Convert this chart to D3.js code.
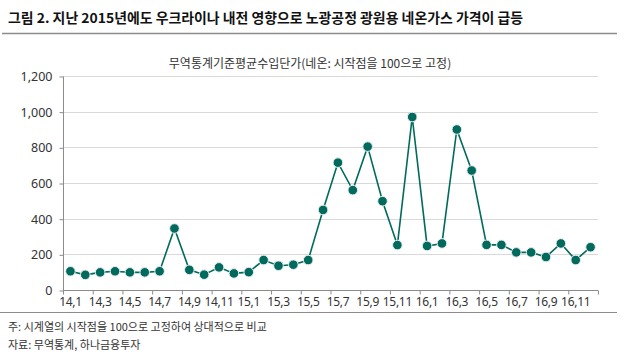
<!DOCTYPE html>
<html>
<head>
<meta charset="utf-8">
<script src="https://cdn.jsdelivr.net/npm/d3@7"></script>
<style>
  body { margin: 0; background: #fff; }
  svg { display: block; font-family: "Noto Sans CJK KR", "Noto Sans", sans-serif; }
  .axis text { fill: #333; font-family: "Noto Sans", "Noto Sans CJK KR", sans-serif; }
</style>
</head>
<body>
<div id="graph"></div>
<script>
const months = [
  "14,1","14,2","14,3","14,4","14,5","14,6","14,7","14,8","14,9","14,10","14,11","14,12",
  "15,1","15,2","15,3","15,4","15,5","15,6","15,7","15,8","15,9","15,10","15,11","15,12",
  "16,1","16,2","16,3","16,4","16,5","16,6","16,7","16,8","16,9","16,10","16,11","16,12"
];
const neonPrice = [
  105, 85, 99, 105, 99, 99, 105, 345, 113, 86, 127, 93,
  100, 168, 136, 142, 168, 449, 714, 560, 804, 498, 252, 970,
  247, 261, 900, 670, 253, 253, 211, 211, 185, 261, 168, 240
];
const yTicks = [0, 200, 400, 600, 800, 1000, 1200];

const title = "그림 2. 지난 2015년에도 우크라이나 내전 영향으로 노광공정 광원용 네온가스 가격이 급등";
const legendText = "무역통계기준평균수입단가(네온: 시작점을 100으로 고정)";
const notes = ["주: 시계열의 시작점을 100으로 고정하여 상대적으로 비교", "자료: 무역통계, 하나금융투자"];

const W = 630, H = 364;
const plot = { left: 63, right: 598, top: 76, bottom: 290 };
const lineColor = "#006b5c";

const svg = d3.select("#graph").append("svg")
  .attr("width", W)
  .attr("height", H);

// title + rule
svg.append("text")
  .attr("x", 8).attr("y", 23)
  .attr("font-size", 13.5).attr("font-weight", "bold").attr("fill", "#111")
  .attr("textLength", 515).attr("lengthAdjust", "spacingAndGlyphs")
  .text(title);
svg.append("line")
  .attr("x1", 2).attr("x2", 617).attr("y1", 33.5).attr("y2", 33.5)
  .attr("stroke", "#8c8c8c").attr("stroke-width", 1.5);

const x = d3.scaleBand().domain(months).range([plot.left, plot.right]).padding(0);
const xIdx = d3.scaleLinear().domain([0, months.length]).range([plot.left, plot.right]);
const y = d3.scaleLinear().domain([0, 1200]).range([plot.bottom, plot.top]);

// gridlines
svg.append("g")
  .selectAll("line")
  .data(yTicks.filter(d => d > 0))
  .enter().append("line")
  .attr("x1", plot.left).attr("x2", plot.right)
  .attr("y1", d => Math.round(y(d)) + 0.5).attr("y2", d => Math.round(y(d)) + 0.5)
  .attr("stroke", "#d9d9d9").attr("stroke-width", 1);

// y axis
const yAxis = svg.append("g")
  .attr("class", "axis")
  .attr("transform", "translate(" + (plot.left + 0.5) + ",0.5)")
  .call(d3.axisLeft(y).tickValues(yTicks).tickSize(4).tickPadding(7).tickFormat(d3.format(",")));
yAxis.selectAll("text").attr("font-size", 12.5);
yAxis.selectAll("line, path").attr("stroke", "#8c8c8c");
yAxis.select(".domain").attr("d", "M0," + plot.top + "V" + plot.bottom);

// x axis tick marks at category boundaries
const xTicks = svg.append("g")
  .attr("class", "axis")
  .attr("transform", "translate(0," + (plot.bottom + 0.5) + ")")
  .call(d3.axisBottom(xIdx).tickValues(d3.range(0, months.length + 1, 2)).tickSize(4).tickFormat(""));
xTicks.selectAll("line, path").attr("stroke", "#8c8c8c");
xTicks.select(".domain").attr("d", "M" + plot.left + ",0H" + plot.right);

// x labels every other month
const xLabels = svg.append("g")
  .attr("class", "axis")
  .attr("transform", "translate(0," + plot.bottom + ")")
  .call(d3.axisBottom(x).tickValues(months.filter((d, i) => i % 2 === 0)).tickSize(0).tickPadding(7));
xLabels.select(".domain").remove();
xLabels.selectAll("text").attr("font-size", 12).attr("letter-spacing", -0.3);

// legend
svg.append("text")
  .attr("x", 310).attr("y", 68)
  .attr("text-anchor", "middle")
  .attr("font-size", 12).attr("fill", "#333")
  .text(legendText);

// series
const line = d3.line()
  .x((d, i) => x(months[i]) + x.bandwidth() / 2)
  .y(d => y(d));

svg.append("path")
  .datum(neonPrice)
  .attr("fill", "none")
  .attr("stroke", lineColor)
  .attr("stroke-width", 1.6)
  .attr("d", line);

svg.selectAll(".dot")
  .data(neonPrice)
  .enter().append("circle")
  .attr("class", "dot")
  .attr("cx", (d, i) => x(months[i]) + x.bandwidth() / 2)
  .attr("cy", d => y(d))
  .attr("r", 4.8)
  .attr("fill", lineColor)
  .attr("stroke", "#ececf6")
  .attr("stroke-width", 1);

// footer
svg.append("line")
  .attr("x1", 0).attr("x2", 617).attr("y1", 312.5).attr("y2", 312.5)
  .attr("stroke", "#8c8c8c").attr("stroke-width", 1);
svg.selectAll(".note")
  .data(notes)
  .enter().append("text")
  .attr("class", "note")
  .attr("x", 8)
  .attr("y", (d, i) => 331 + i * 18)
  .attr("font-size", 11).attr("fill", "#333")
  .text(d => d);
</script>
</body>
</html>
